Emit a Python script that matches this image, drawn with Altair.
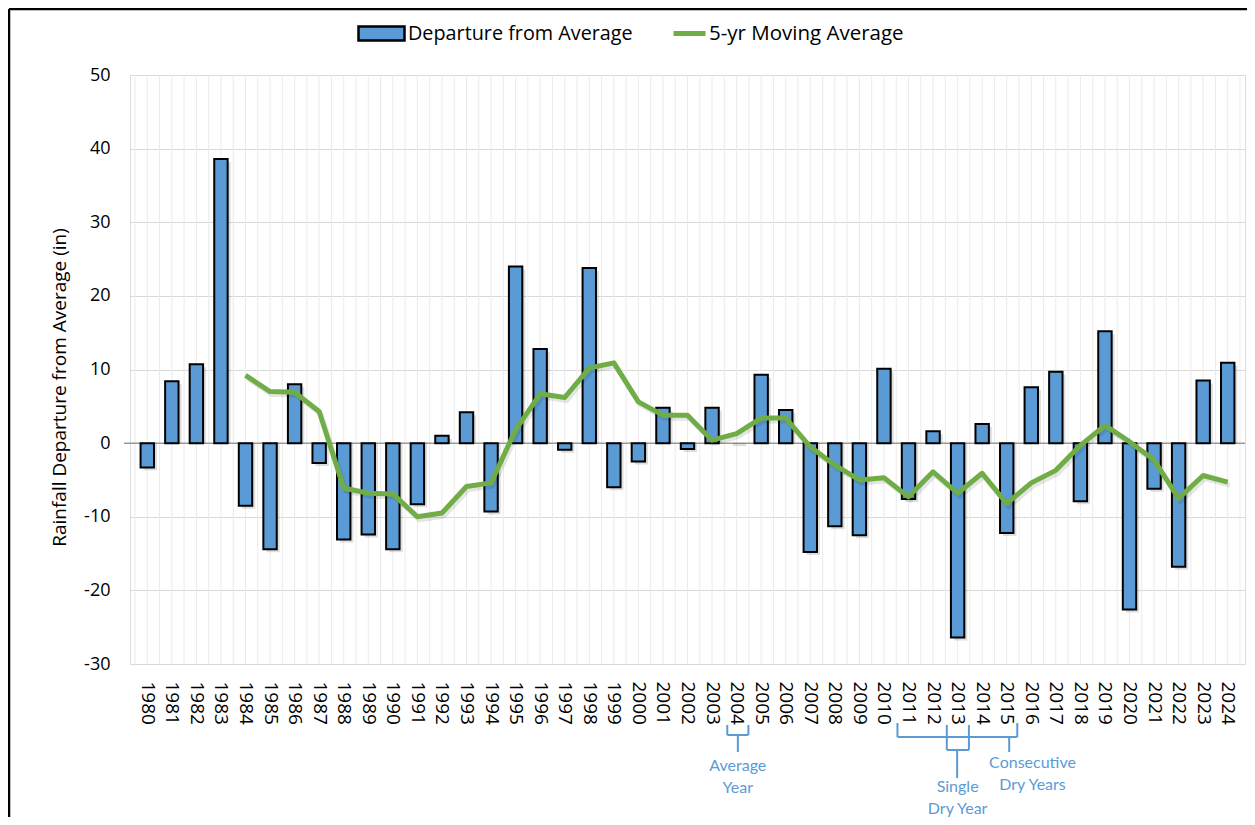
import altair as alt
import pandas as pd

years = list(range(1980, 2025))
departure = [-3.3, 8.4, 10.7, 38.6, -8.5, -14.4, 8.0, -2.7, -13.1, -12.4,
             -14.4, -8.3, 1.0, 4.2, -9.3, 24.0, 12.8, -0.9, 23.8, -6.0,
             -2.5, 4.8, -0.8, 4.8, 0.0, 9.3, 4.5, -14.8, -11.3, -12.5,
             10.1, -7.6, 1.6, -26.4, 2.6, -12.2, 7.6, 9.7, -7.9, 15.2,
             -22.6, -6.2, -16.8, 8.5, 10.9]
ma_years = list(range(1984, 2025))
moving_avg = [9.2, 7.0, 6.9, 4.3, -6.1, -6.8, -6.9, -10.0, -9.5, -5.9,
              -5.4, 1.8, 6.7, 6.2, 10.2, 10.9, 5.6, 3.8, 3.8, 0.4,
              1.3, 3.4, 3.4, -0.5, -3.0, -5.0, -4.7, -7.3, -3.9, -6.8,
              -4.1, -8.2, -5.4, -3.7, -0.3, 2.4, 0.2, -2.3, -7.5, -4.4, -5.3]
y_ticks = [-30, -20, -10, 0, 10, 20, 30, 40, 50]

BAR_NAME = "Departure from Average"
LINE_NAME = "5-yr Moving Average"
BLUE = "#5b9bd5"
GREEN = "#70ad47"
ANNO = "#5b9bd5"

W, H = 1115, 589
FONT = "Open Sans"
LFONT = "Lato"

bars_df = pd.DataFrame({"year": years, "value": departure, "bar_series": BAR_NAME})
ma_df = pd.DataFrame({"year": ma_years, "value": moving_avg, "line_series": LINE_NAME})
grid_df = pd.DataFrame({"gx": [y - 0.5 for y in years] + years + [years[-1] + 0.5]})

xscale = alt.Scale(domain=[years[0] - 0.5, years[-1] + 0.5], nice=False, zero=False)
yscale = alt.Scale(domain=[-30, 50], nice=False)

xaxis = alt.Axis(values=years, format="d", labelAngle=90, ticks=False, domain=False,
                 grid=False, labelPadding=17, labelFontSize=19, labelFont=FONT,
                 labelColor="#000000", labelOverlap=False, labelFlush=False, title=None)
yaxis = alt.Axis(values=y_ticks, ticks=False, domain=False, grid=True, gridColor="#d9d9d9",
                 gridWidth=1, labelPadding=20, labelFontSize=18, labelFont=FONT,
                 labelExpr="datum.value + ''",
                 labelColor="#000000", title="Rainfall Departure from Average (in)",
                 titleFont=FONT, titleFontSize=19, titleFontWeight="normal",
                 titleColor="#000000", titleAngle=-90, titleX=-71, titleY=312,
                 titleAlign="center", titleBaseline="middle")

vgrid = alt.Chart(grid_df).mark_rule(color="#ebebeb", strokeWidth=1).encode(
    x=alt.X("gx:Q", scale=xscale, axis=xaxis),
)

base_y = alt.Y("value:Q", scale=yscale, axis=yaxis)

zero_line = alt.Chart(pd.DataFrame({"z": [0]})).mark_rule(color="#9a9a9a", strokeWidth=1.5).encode(
    y=alt.Y("z:Q", scale=yscale, axis=yaxis), x=alt.value(-6), x2=alt.value(W)
)

bar_shadow = alt.Chart(bars_df).mark_bar(size=13.4, color="#000000", opacity=0.13,
                                         xOffset=3, yOffset=3).encode(
    x=alt.X("year:Q", scale=xscale, axis=xaxis),
    y=base_y,
    y2=alt.datum(0),
)

bars = alt.Chart(bars_df).mark_bar(size=13.4, strokeWidth=2).encode(
    x=alt.X("year:Q", scale=xscale, axis=xaxis),
    y=base_y,
    y2=alt.datum(0),
    stroke=alt.condition(alt.datum.value == 0, alt.value("transparent"), alt.value("#000000")),
    fill=alt.Fill("bar_series:N", scale=alt.Scale(domain=[BAR_NAME], range=[BLUE]),
                  legend=alt.Legend(title=None, orient="none", legendX=227, legendY=-66,
                                    symbolType="M-1,-0.3H1V0.3H-1Z", symbolSize=2116,
                                    symbolStrokeColor="#000000", symbolStrokeWidth=2.5,
                                    symbolFillColor=BLUE, labelFont=FONT, labelFontSize=19.8,
                                    labelColor="#000000", labelOffset=2, labelLimit=0,
                                    padding=0)),
)

line_shadow = alt.Chart(ma_df).mark_line(color="#000000", opacity=0.1, strokeWidth=5,
                                         xOffset=2, yOffset=3).encode(
    x=alt.X("year:Q", scale=xscale, axis=xaxis),
    y=base_y,
)

line = alt.Chart(ma_df).mark_line(strokeWidth=5, strokeJoin="round").encode(
    x=alt.X("year:Q", scale=xscale, axis=xaxis),
    y=base_y,
    stroke=alt.Stroke("line_series:N", scale=alt.Scale(domain=[LINE_NAME], range=[GREEN]),
                      legend=alt.Legend(title=None, orient="none", legendX=541, legendY=-60,
                                        symbolType="stroke", symbolSize=1024,
                                        symbolStrokeWidth=5, labelFont=FONT, labelFontSize=20.5,
                                        labelColor="#000000", labelOffset=1, labelLimit=0,
                                        padding=0)),
)

# annotation brackets below the axis: (x1, x2, y1px, y2px)
segments = [
    (2003.62, 2003.62, 650, 660), (2004.48, 2004.48, 650, 660), (2003.62, 2004.48, 660, 660),
    (2004.05, 2004.05, 660, 677),
    (2010.55, 2010.55, 648, 662), (2015.43, 2015.43, 648, 662), (2010.55, 2015.43, 662, 662),
    (2015.1, 2015.1, 662, 677),
    (2012.56, 2012.56, 650, 675), (2013.46, 2013.46, 650, 675), (2012.56, 2013.46, 675, 675),
    (2012.98, 2012.98, 675, 703),
]
dummy = pd.DataFrame({"a": [0]})
anno_layers = []
for x1, x2, y1, y2 in segments:
    if x1 == x2:
        enc = dict(x=alt.X(datum=x1, scale=xscale, axis=xaxis), y=alt.value(y1), y2=alt.value(y2))
    else:
        enc = dict(x=alt.X(datum=x1, scale=xscale, axis=xaxis), x2=alt.datum(x2), y=alt.value(y1))
    anno_layers.append(alt.Chart(dummy).mark_rule(color=ANNO, strokeWidth=2).encode(**enc))

labels = [
    (2004.05, 691, ["Average", "Year"]),
    (2013.0, 712, ["Single", "Dry Year"]),
    (2016.05, 688, ["Consecutive", "Dry Years"]),
]
for lx, ly, txt in labels:
    anno_layers.append(
        alt.Chart(dummy).mark_text(color=ANNO, font=LFONT, fontSize=16, lineHeight=22,
                                   align="center", baseline="middle").encode(
            x=alt.X(datum=lx, scale=xscale, axis=xaxis), y=alt.value(ly), text=alt.value(txt))
    )

# outer frame (top and left edges of the chart box)
frame_top = alt.Chart(dummy).mark_rule(color="#000000", strokeWidth=2.5).encode(
    x=alt.value(-121), x2=alt.value(W + 2), y=alt.value(-66))
frame_left = alt.Chart(dummy).mark_rule(color="#000000", strokeWidth=2.5).encode(
    x=alt.value(-121), y=alt.value(-66), y2=alt.value(H + 160))

chart = alt.layer(vgrid, zero_line, bar_shadow, bars, line_shadow, line,
                  *anno_layers, frame_top, frame_left).resolve_legend(
    fill="independent", stroke="independent"
).properties(
    width=W, height=H,
    padding={"left": 122, "top": 67, "right": 2, "bottom": 153},
    autosize=alt.AutoSizeParams(type="none"),
).configure_view(stroke=None).configure(background="#ffffff")

chart.save("out.html", embed_options={"renderer": "svg", "actions": False})
